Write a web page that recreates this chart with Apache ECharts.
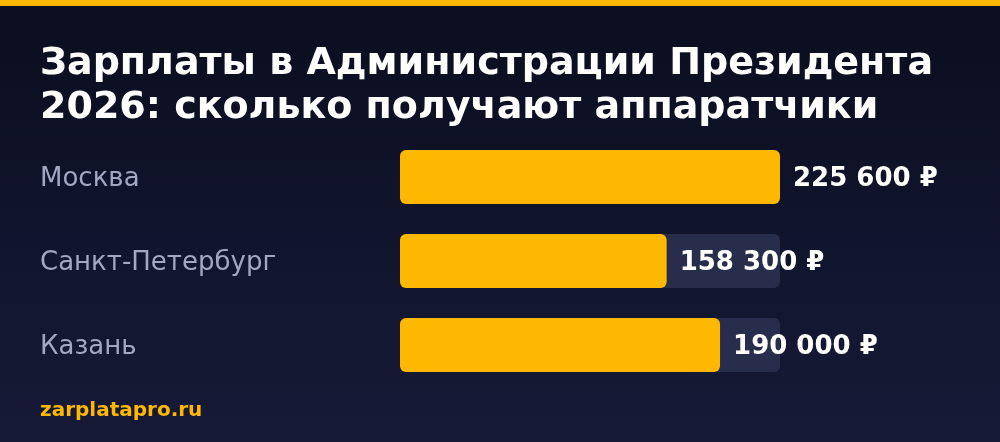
<!DOCTYPE html>
<html><head><meta charset="utf-8">
<script src="https://cdn.jsdelivr.net/npm/echarts@6/dist/echarts.min.js"></script>
<style>html,body{margin:0;padding:0;background:#0c0f21}#c{width:1000px;height:442px}</style>
</head><body><div id="c"></div>
<script>
const titleText = 'Зарплаты в Администрации Президента\n2026: сколько получают аппаратчики';
const cities = ['Москва', 'Санкт-Петербург', 'Казань'];
const salaries = [225600, 158300, 190000];
const footer = 'zarplatapro.ru';

const fmt = v => String(v).replace(/\B(?=(\d{3})+(?!\d))/g, ' ') + ' ₽';
const font = '"DejaVu Sans", sans-serif';
const chart = echarts.init(document.getElementById('c'));
chart.setOption({
  backgroundColor: {type:'linear', x:0, y:0, x2:0, y2:1, colorStops:[{offset:0,color:'#0b0e1f'},{offset:1,color:'#161a37'}]},
  animation: false,
  title: {text: titleText, left: 40, top: 42, padding: 0, textStyle: {color:'#ffffff', fontFamily: font, fontWeight:'bold', fontSize: 38, lineHeight: 44}},
  graphic: [
    {type:'rect', left:0, top:0, shape:{width:1000, height:6}, style:{fill:'#ffb800'}},
    {type:'text', left:40, top:401, style:{text: footer, fill:'#ffb800', font:'bold 20px "DejaVu Sans", sans-serif'}}
  ],
  grid: {left: 400, right: 220, top: 135, bottom: 55, containLabel: false},
  xAxis: {type:'value', min:0, max: Math.max(...salaries), show:false},
  yAxis: {type:'category', data: cities, inverse:true, axisLine:{show:false}, axisTick:{show:false}, splitLine:{show:false},
    axisLabel:{align:'left', margin:360, formatter: v => '{c|' + v + '}',
      rich:{c:{color:'#a3a7c2', fontFamily: font, fontSize: 26, padding:[4,0,0,0]}}}},
  series: [{
    type:'bar', data: salaries, barWidth: 54,
    itemStyle:{color:'#ffb800', borderRadius: 6},
    showBackground: true,
    backgroundStyle:{color:'#282d4b', borderRadius: 6},
    label:{show:true, position:'right', distance: 13, offset:[0, 2], formatter: p => fmt(p.value), color:'#ffffff', fontFamily: font, fontWeight:'bold', fontSize: 26}
  }]
});
</script></body></html>
